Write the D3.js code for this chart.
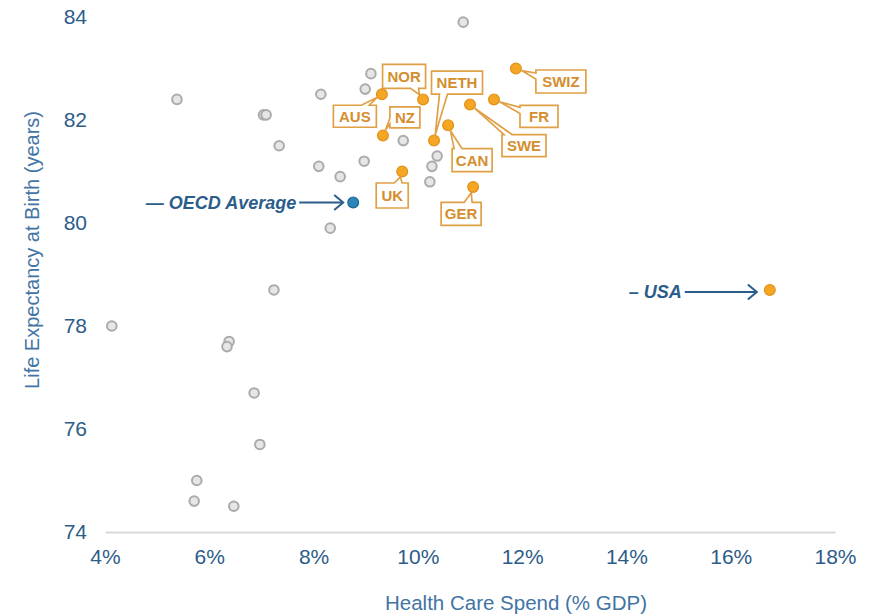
<!DOCTYPE html>
<html>
<head>
<meta charset="utf-8">
<script src="https://cdn.jsdelivr.net/npm/d3@7"></script>
<style>
  body { margin: 0; background: #fff; }
  svg { display: block; font-family: "Liberation Sans", Arial, sans-serif; }
</style>
</head>
<body>
<svg id="chart" width="879" height="616"></svg>
<script>
// other OECD countries (unlabelled)
const otherSpend = [10.87, 9.10, 8.99, 8.14, 5.38, 7.04, 7.09, 7.34, 9.72, 8.10, 8.97, 8.51, 10.37, 10.27, 10.23, 8.32, 7.24, 4.13, 6.38, 6.34, 6.86, 6.97, 5.76, 5.71, 6.47];
const otherLife = [83.9, 82.9, 82.6, 82.5, 82.4, 82.1, 82.1, 81.5, 81.6, 81.1, 81.2, 80.9, 81.3, 81.1, 80.8, 79.9, 78.7, 78.0, 77.7, 77.6, 76.7, 75.7, 75.0, 74.6, 74.5];

// highlighted countries
const countries = ['NOR', 'AUS', 'NZ', 'NETH', 'SWIZ', 'FR', 'SWE', 'CAN', 'UK', 'GER', 'USA'];
const spend = [10.10, 9.31, 9.33, 10.31, 11.88, 11.46, 11.00, 10.58, 9.70, 11.06, 16.75];
const lifeExp = [82.4, 82.5, 81.7, 81.6, 83.0, 82.4, 82.3, 81.9, 81.0, 80.7, 78.7];

const oecdSpend = 8.76;
const oecdLife = 80.4;

const xTicks = [4, 6, 8, 10, 12, 14, 16, 18];
const yTicks = [74, 76, 78, 80, 82, 84];

// callout layout: box centre offset from point, box size, wedge side + base along side
const callouts = {
    NOR:  {dx: -19, dy: -23, w: 43, h: 24, side: 'bottom', a: 28, b: 36},
    AUS:  {dx: -27, dy: 22, w: 43, h: 22, side: 'top', a: 28, b: 36},
    NZ:   {dx: 22, dy: -18, w: 30, h: 21, side: 'left', a: 11, b: 17},
    NETH: {dx: 23, dy: -58, w: 51, h: 23, side: 'bottom', a: 8, b: 16},
    SWIZ: {dx: 45, dy: 13, w: 50, h: 23, side: 'left', a: 3, b: 9},
    FR:   {dx: 45, dy: 17, w: 38, h: 22, side: 'left', a: 2, b: 8},
    SWE:  {dx: 54, dy: 41, w: 44, h: 22, side: 'top', a: 2, b: 10},
    CAN:  {dx: 24, dy: 35, w: 40, h: 23, side: 'top', a: 2, b: 10},
    UK:   {dx: -10, dy: 24, w: 32, h: 25, side: 'top', a: 18, b: 26},
    GER:  {dx: -12, dy: 27, w: 40, h: 23, side: 'top', a: 23, b: 31}
};

const tickColor = '#2C5C89';
const titleColor = '#4274A4';
const noteColor = '#2B5D8B';
const orange = '#F5A623';
const orangeStroke = '#E0921A';
const boxStroke = '#E0A045';
const boxText = '#D48E2E';

const svg = d3.select('#chart');

const x = d3.scaleLinear().domain([4, 18]).range([105, 835]);
const y = d3.scaleLinear().domain([74, 84]).range([532, 17]);

// x axis
const xAxis = svg.append('g')
    .attr('transform', `translate(0,${y(74)})`)
    .call(d3.axisBottom(x).tickValues(xTicks).tickSize(0).tickPadding(17).tickFormat(d => d + '%'));
xAxis.select('.domain').attr('stroke', '#D9D9D9').attr('stroke-width', 2);
xAxis.selectAll('text').attr('fill', tickColor).style('font-size', '21px');

// y axis
const yAxis = svg.append('g')
    .attr('transform', `translate(${x(4)},0)`)
    .call(d3.axisLeft(y).tickValues(yTicks).tickSize(0).tickPadding(18));
yAxis.select('.domain').remove();
yAxis.selectAll('text').attr('fill', tickColor).style('font-size', '21px');

svg.append('text')
    .attr('x', 516).attr('y', 610)
    .attr('text-anchor', 'middle')
    .attr('fill', titleColor).style('font-size', '20.5px')
    .text('Health Care Spend (% GDP)');

svg.append('text')
    .attr('transform', `translate(39,250) rotate(-90)`)
    .attr('text-anchor', 'middle')
    .attr('fill', titleColor).style('font-size', '20px')
    .text('Life Expectancy at Birth (years)');

// gray points
svg.append('g').selectAll('circle')
    .data(otherSpend.map((s, i) => ({s, l: otherLife[i]})))
    .enter().append('circle')
    .attr('cx', d => x(d.s)).attr('cy', d => y(d.l)).attr('r', 4.8)
    .attr('fill', '#E6E6E6').attr('stroke', '#ABABAB').attr('stroke-width', 2);

const pts = countries.map((c, i) => ({c, s: spend[i], l: lifeExp[i]}));

// callout path: rectangle with a wedge on one side pointing to (tx, ty)
function calloutPath(x0, y0, w, h, side, a, b, tx, ty) {
    const x1 = x0 + w, y1 = y0 + h;
    const p = d3.path();
    p.moveTo(x0, y0);
    if (side === 'top') { p.lineTo(x0 + a, y0); p.lineTo(tx, ty); p.lineTo(x0 + b, y0); }
    p.lineTo(x1, y0);
    p.lineTo(x1, y1);
    if (side === 'bottom') { p.lineTo(x0 + b, y1); p.lineTo(tx, ty); p.lineTo(x0 + a, y1); }
    p.lineTo(x0, y1);
    if (side === 'left') { p.lineTo(x0, y0 + b); p.lineTo(tx, ty); p.lineTo(x0, y0 + a); }
    p.closePath();
    return p.toString();
}

const labelled = pts.filter(d => callouts[d.c]);
const cg = svg.append('g').selectAll('g').data(labelled).enter().append('g');

cg.append('path')
    .attr('d', d => {
        const o = callouts[d.c];
        const px = x(d.s), py = y(d.l);
        const cx = px + o.dx, cy = py + o.dy;
        const bx = cx - o.w / 2, by = cy - o.h / 2;
        // wedge base midpoint, tip stops just short of the dot
        let mx, my;
        if (o.side === 'top') { mx = bx + (o.a + o.b) / 2; my = by; }
        else if (o.side === 'bottom') { mx = bx + (o.a + o.b) / 2; my = by + o.h; }
        else { mx = bx; my = by + (o.a + o.b) / 2; }
        const len = Math.hypot(px - mx, py - my);
        const tx = px + (mx - px) / len * 6, ty = py + (my - py) / len * 6;
        return calloutPath(bx, by, o.w, o.h, o.side, o.a, o.b, tx, ty);
    })
    .attr('fill', '#fff').attr('stroke', boxStroke).attr('stroke-width', 1.7)
    .attr('stroke-linejoin', 'miter');

cg.append('text')
    .attr('x', d => x(d.s) + callouts[d.c].dx)
    .attr('y', d => y(d.l) + callouts[d.c].dy + 5.5)
    .attr('text-anchor', 'middle')
    .attr('fill', boxText).style('font-size', '15px').style('font-weight', 'bold')
    .text(d => d.c);

// orange points
svg.append('g').selectAll('circle').data(pts).enter().append('circle')
    .attr('cx', d => x(d.s)).attr('cy', d => y(d.l)).attr('r', 5.4)
    .attr('fill', orange).attr('stroke', orangeStroke).attr('stroke-width', 1.2);

// OECD average point
svg.append('circle')
    .attr('cx', x(oecdSpend)).attr('cy', y(oecdLife)).attr('r', 5.4)
    .attr('fill', '#2B86BA').attr('stroke', '#1F6593').attr('stroke-width', 1.2);

// arrow annotations
function arrowNote(px, py, gap, len, label) {
    const tip = px - gap, start = tip - len;
    const g = svg.append('g').attr('stroke', noteColor).attr('fill', 'none')
        .attr('stroke-width', 2);
    g.append('line').attr('x1', start).attr('y1', py).attr('x2', tip - 1).attr('y2', py);
    g.append('path').attr('d', `M${tip - 9},${py - 7.5}L${tip},${py}L${tip - 9},${py + 7.5}`);
    svg.append('text')
        .attr('x', start - 3).attr('y', py + 6.5)
        .attr('text-anchor', 'end')
        .attr('fill', noteColor)
        .style('font-size', '18px').style('font-weight', 'bold').style('font-style', 'italic')
        .text(label);
}

arrowNote(x(oecdSpend), y(oecdLife), 10, 44, '\u2014 OECD Average');
const usa = pts.find(d => d.c === 'USA');
arrowNote(x(usa.s), y(usa.l) + 2, 13, 72, '\u2013 USA      ');
</script>
</body>
</html>
